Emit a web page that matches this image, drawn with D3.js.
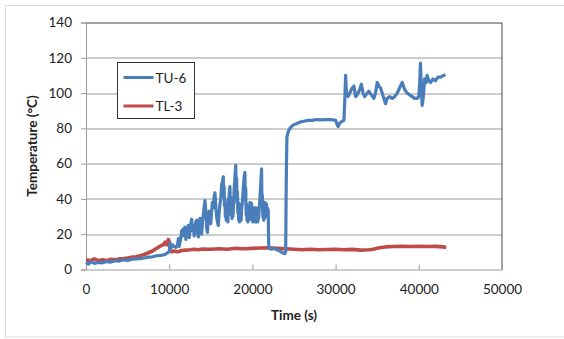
<!DOCTYPE html>
<html>
<head>
<meta charset="utf-8">
<script src="https://cdn.jsdelivr.net/npm/d3@7"></script>
<style>
  body { margin: 0; background: #fff; }
  svg { font-family: Lato, "Open Sans", sans-serif; }
</style>
</head>
<body>
<svg id="chart" width="564" height="339"></svg>
<script>
// series names and values
const seriesNames = ["TU-6", "TL-3"];
const xTicks = [0, 10000, 20000, 30000, 40000, 50000];
const yTicks = [0, 20, 40, 60, 80, 100, 120, 140];

// TU-6 : [time (s), temperature (°C)]
const tu6 = [
  [0,4],[300,3],[600,4.5],[1000,3.5],[1500,4],[2000,3.8],[2500,4.5],[3000,4.2],[3500,5],[4000,4.8],
  [4500,5.5],[5000,5.2],[5500,5.8],[6000,6],[6500,6.2],[7000,6.5],[7500,7],[8000,7.2],[8500,7.8],[9000,8],
  [9500,8.5],[9800,9.5],[10000,10],[10100,15],[10200,12],[10400,14],[10600,13],[10800,12.5],[11000,14],[11100,17.5],
  [11200,13],[11400,18],[11500,22],[11600,19],[11700,23],[11800,21],[11900,24],[12000,17],[12100,23],[12200,20],
  [12300,25],[12400,18],[12500,22],[12600,26],[12700,28.5],[12800,22],[12900,25],[13000,19],[13100,24],[13200,27],
  [13300,28],[13400,21],[13500,18.5],[13600,26],[13700,29],[13800,23],[13900,20],[14000,27],[14100,31],[14200,35],
  [14300,39],[14400,33],[14500,24],[14600,21],[14700,30],[14800,33],[14900,28],[15000,26],[15100,33],[15200,38],
  [15300,35],[15400,41],[15500,43.5],[15600,36],[15700,30],[15800,27],[15900,25],[16000,32],[16100,37],[16200,40],
  [16300,48],[16400,50],[16500,52.5],[16550,42],[16600,47],[16650,36],[16700,40],[16750,30],[16800,34],[16850,28],
  [16900,36],[16950,29],[17000,33],[17050,27],[17100,38],[17200,42],[17300,47],[17350,36],[17400,41],[17450,31],
  [17500,35],[17550,29],[17600,37],[17650,30],[17700,33],[17800,45],[17900,52],[18000,59],[18050,46],[18100,52],
  [18150,38],[18200,44],[18250,32],[18300,38],[18350,28],[18400,34],[18450,27],[18500,35],[18550,29],[18600,37],
  [18650,28],[18700,34],[18800,38],[18900,46],[19000,52],[19100,55],[19150,40],[19200,46],[19250,31],[19300,37],
  [19350,28],[19400,34],[19450,27],[19500,33],[19550,28],[19600,36],[19650,30],[19700,38],[19750,31],[19800,36],
  [19850,29],[19900,37.5],[19950,28],[20000,34],[20050,27],[20100,33],[20150,28],[20200,35],[20250,28],[20300,34],
  [20350,27],[20400,35],[20450,28],[20500,33],[20550,27],[20600,32],[20650,27],[20700,35],[20750,29],[20800,33],
  [20900,40],[21000,48],[21100,57],[21150,38],[21200,42],[21250,30],[21300,36],[21350,28],[21400,34],[21450,29],
  [21500,38],[21550,30],[21600,36],[21650,30],[21700,37],[21750,31],[21800,35],[21850,30],[21900,34],[21950,15],
  [22000,12],[22300,11.5],[22600,12],[23000,11],[23300,10.5],[23600,9.5],[23900,9],[24000,10],[24050,40],[24100,62],
  [24150,75],[24300,78],[24500,80],[24800,81.5],[25200,82.5],[25700,83.5],[26200,84],[26700,84.5],[27200,84.5],[27700,85],
  [28200,84.8],[28700,85],[29200,85],[29700,84.8],[30000,84.5],[30200,82],[30300,81],[30500,83],[30800,84],[31000,84.5],
  [31100,95],[31200,110],[31300,100],[31500,98],[31800,101],[32000,103],[32200,104],[32400,98],[32600,99],[32900,102],
  [33100,105],[33300,100],[33500,98],[33800,100],[34000,101],[34300,99],[34600,97],[34800,100],[35000,106],[35200,104],
  [35400,103],[35600,100],[35800,97],[36000,94],[36200,97],[36500,98],[36800,97],[37100,98],[37400,100],[37700,103],
  [38000,106],[38300,102],[38600,100],[38900,99],[39200,98],[39500,97],[39800,97],[40000,98],[40100,105],[40200,117],
  [40300,104],[40400,93],[40500,96],[40600,101],[40700,108],[40900,106],[41000,110],[41200,107],[41400,106],[41700,108],
  [42000,107],[42300,109],[42600,109],[43000,110],[43200,110.5]
];

// TL-3 : [time (s), temperature (°C)]
const tl3 = [
  [0,5.5],[500,5],[1000,6],[1500,5],[2000,5.5],[2500,5],[3000,5.8],[3500,5.5],[4000,6],[4500,6.2],
  [5000,6.5],[5500,7],[6000,7.2],[6500,7.8],[7000,8.5],[7500,9.5],[8000,10.5],[8500,12],[9000,13.5],[9300,14],
  [9500,15.5],[9700,14],[9900,17],[10000,16],[10100,11],[10300,10],[10600,10.5],[11000,10],[11500,10.8],[12000,11],
  [12500,11.2],[13000,11.5],[13500,11.2],[14000,11.6],[15000,11.5],[16000,11.8],[17000,11.5],[18000,12],[19000,11.8],[20000,12],
  [21000,12.2],[22000,12.3],[23000,12],[24000,11.8],[25000,11.5],[26000,11.2],[27000,11.5],[28000,11.2],[29000,11.3],[30000,11.5],
  [31000,11.2],[32000,11.4],[33000,11],[34000,11.2],[34500,11.5],[35000,12],[35500,12.5],[36000,12.8],[37000,13],[38000,13.2],
  [39000,13],[40000,13.2],[41000,13],[42000,13.1],[43000,12.8],[43300,12.5]
];

const colors = ["#4a7ebb", "#be4b48"];

const svg = d3.select("#chart");
const margin = {left: 86, right: 62, top: 22.5, bottom: 69.5};
const width = 564 - margin.left - margin.right;
const height = 339 - margin.top - margin.bottom;

// outer frame
svg.append("rect")
    .attr("x", 5.5).attr("y", 5.5)
    .attr("width", 565).attr("height", 331.5)
    .attr("fill", "none")
    .attr("stroke", "#dcdcdc");

const x = d3.scaleLinear().domain([0, 50000]).range([0, width]);
const y = d3.scaleLinear().domain([0, 140]).range([height, 0]);

const g = svg.append("g")
    .attr("transform", `translate(${margin.left},${margin.top})`);

// gridlines
g.append("g")
    .selectAll("line")
    .data(yTicks.filter(d => d > 0 && d < 140))
    .join("line")
    .attr("x1", 0).attr("x2", width)
    .attr("y1", d => Math.round(y(d)) + 0.5)
    .attr("y2", d => Math.round(y(d)) + 0.5)
    .attr("stroke", "#9a9a9a");

// top and right border
g.append("path")
    .attr("d", `M0,0.5H${width}V${height}`)
    .attr("fill", "none")
    .attr("stroke", "#444");

// x axis
const xAxis = g.append("g")
    .attr("transform", `translate(0,${height})`)
    .call(d3.axisBottom(x).tickValues(xTicks).tickSize(-5).tickPadding(15).tickFormat(d3.format("d")));
xAxis.select(".domain").attr("stroke", "#9a9a9a");
xAxis.selectAll(".tick line").attr("stroke", "#9a9a9a");
xAxis.selectAll("text").attr("font-size", "13.5px").attr("fill", "#222")
    .attr("font-family", "Lato, sans-serif");

// y axis
const yAxis = g.append("g")
    .call(d3.axisLeft(y).tickValues(yTicks).tickSize(5).tickPadding(9));
yAxis.select(".domain").attr("stroke", "#9a9a9a");
yAxis.selectAll(".tick line").attr("stroke", "#9a9a9a");
yAxis.selectAll("text").attr("font-size", "13.5px").attr("fill", "#222")
    .attr("font-family", "Lato, sans-serif");

// lines
const line = d3.line()
    .x(d => x(d[0]))
    .y(d => y(d[1]));

g.append("path")
    .datum(tl3)
    .attr("d", line)
    .attr("fill", "none")
    .attr("stroke", colors[1])
    .attr("stroke-width", 3.6)
    .attr("stroke-linejoin", "round");

g.append("path")
    .datum(tu6)
    .attr("d", line)
    .attr("fill", "none")
    .attr("stroke", colors[0])
    .attr("stroke-width", 3.2)
    .attr("stroke-linejoin", "round");

// axis titles
svg.append("text")
    .attr("x", margin.left + width / 2)
    .attr("y", 320)
    .attr("text-anchor", "middle")
    .attr("font-size", "13.5px")
    .attr("font-weight", "bold")
    .attr("fill", "#222")
    .text("Time (s)");

svg.append("text")
    .attr("transform", `translate(37,${margin.top + height / 2}) rotate(-90)`)
    .attr("text-anchor", "middle")
    .attr("font-size", "13.5px")
    .attr("font-weight", "bold")
    .attr("fill", "#222")
    .text("Temperature (°C)");

// legend
const legend = svg.append("g")
    .attr("transform", "translate(117.5,62.5)");

legend.append("rect")
    .attr("width", 77)
    .attr("height", 56)
    .attr("fill", "#fff")
    .attr("stroke", "#333");

const items = legend.selectAll(".item")
    .data(seriesNames)
    .join("g")
    .attr("class", "item")
    .attr("transform", (d, i) => `translate(0,${15 + i * 28.5})`);

items.append("line")
    .attr("x1", 6).attr("x2", 36)
    .attr("stroke", (d, i) => colors[i])
    .attr("stroke-width", 3);

items.append("text")
    .attr("x", 38)
    .attr("y", 5)
    .attr("font-size", "13.5px")
    .attr("fill", "#222")
    .text(d => d);
</script>
</body>
</html>
